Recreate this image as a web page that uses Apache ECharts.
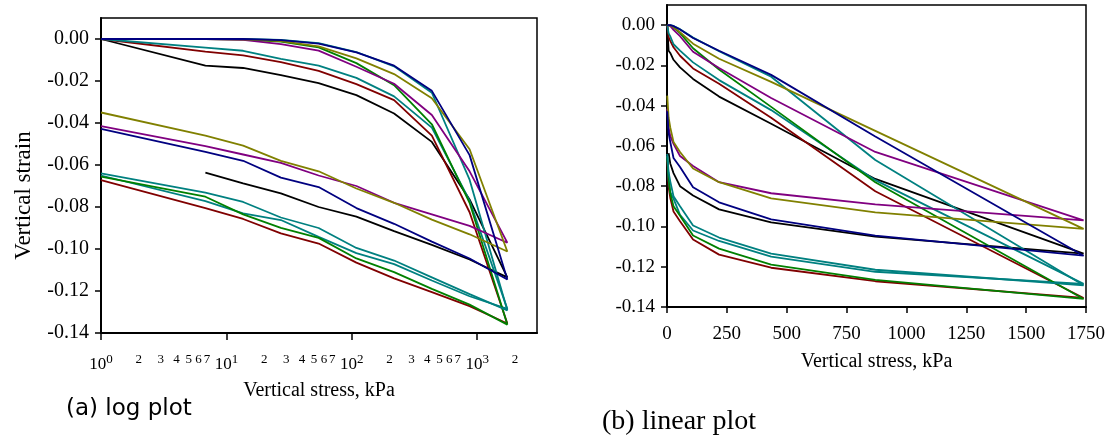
<!DOCTYPE html>
<html>
<head>
<meta charset="utf-8">
<script src="https://cdn.jsdelivr.net/npm/echarts@6/dist/echarts.min.js"></script>
<style>
  html, body { margin: 0; padding: 0; background: #ffffff; }
  #chart { width: 1108px; height: 440px; }
</style>
</head>
<body>
<div id="chart"></div>
<script>
// Vertical stress steps, kPa (loading, then unloading)
const loadStress = [1, 6.8, 13.6, 27.2, 54.4, 108.8, 217.5, 435, 870, 1740];
const unloadStress = [870, 435, 217.5, 108.8, 54.4, 27.2, 13.6, 6.8, 1];

// Vertical strain of each specimen along the loading and unloading branches
const blackLoad    = [0, -0.0127, -0.0138, -0.0172, -0.021, -0.0267, -0.0355, -0.049, -0.0764, -0.1135];
const blackUnload  = [-0.105, -0.098, -0.0915, -0.0846, -0.080, -0.0735, -0.0687, -0.0636];
const redLoad      = [0, -0.006, -0.0078, -0.011, -0.0152, -0.0215, -0.0291, -0.046, -0.0825, -0.1355];
const redUnload    = [-0.1272, -0.1205, -0.114, -0.1065, -0.0974, -0.0926, -0.0857, -0.0805, -0.0672];
const tealALoad    = [0, -0.0041, -0.0056, -0.0095, -0.0127, -0.0185, -0.0273, -0.0422, -0.077, -0.1285];
const tealAUnload  = [-0.1225, -0.115, -0.1072, -0.102, -0.0942, -0.0862, -0.083, -0.0772, -0.065];
const tealBLoad    = [0, 0, 0, -0.0004, -0.002, -0.0062, -0.013, -0.0256, -0.067, -0.1292];
const tealBUnload  = [-0.1215, -0.1135, -0.1055, -0.0995, -0.090, -0.085, -0.0776, -0.0732, -0.064];
const greenLoad    = [0, 0, -0.0003, -0.0012, -0.004, -0.0115, -0.022, -0.0406, -0.078, -0.136];
const greenUnload  = [-0.1265, -0.119, -0.111, -0.1045, -0.0947, -0.0899, -0.0835, -0.0751, -0.0655];
const navyLoad     = [0, 0, 0, -0.0005, -0.0022, -0.0064, -0.0127, -0.0247, -0.0553, -0.1145];
const navyUnload   = [-0.1045, -0.0965, -0.088, -0.0805, -0.0705, -0.066, -0.058, -0.0538, -0.0428];
const purpleLoad   = [0, 0, -0.0004, -0.0024, -0.0055, -0.0132, -0.0213, -0.0362, -0.063, -0.097];
const purpleUnload = [-0.089, -0.0835, -0.078, -0.070, -0.065, -0.059, -0.055, -0.051, -0.0415];
const oliveLoad    = [0, 0, -0.0002, -0.001, -0.0035, -0.0092, -0.0167, -0.0282, -0.0525, -0.1012];
const oliveUnload  = [-0.093, -0.086, -0.078, -0.0712, -0.063, -0.058, -0.0508, -0.046, -0.035];

// Axis tick values
const strainTicks = [-0.14, -0.12, -0.10, -0.08, -0.06, -0.04, -0.02, 0];
const logDecades = [1, 10, 100, 1000];
const logLabelValues = [1, 2, 3, 4, 5, 6, 7, 10, 20, 30, 40, 50, 60, 70,
                        100, 200, 300, 400, 500, 600, 700, 1000, 2000];

const specimens = [
  { color: '#000000', load: blackLoad,  unload: blackUnload },
  { color: '#800000', load: redLoad,    unload: redUnload },
  { color: '#008080', load: tealALoad,  unload: tealAUnload },
  { color: '#008000', load: greenLoad,  unload: greenUnload },
  { color: '#008080', load: tealBLoad,  unload: tealBUnload },
  { color: '#800080', load: purpleLoad, unload: purpleUnload },
  { color: '#808000', load: oliveLoad,  unload: oliveUnload },
  { color: '#000080', load: navyLoad,   unload: navyUnload }
];

function curve(sp) {
  const pts = sp.load.map((e, i) => [loadStress[i], e]);
  sp.unload.forEach((e, i) => pts.push([unloadStress[i], e]));
  return pts;
}

const serif = 'Liberation Serif';
const fmtStrain = v => (Math.abs(v) < 1e-9 ? 0 : v).toFixed(2);

function logLabel(v) {
  const e = Math.floor(Math.log10(v) + 1e-9);
  const lead = Math.round(v / Math.pow(10, e));
  if (lead === 1) return '{base|10}{exp|' + e + '}';
  return '{minor|' + lead + '}';
}

const strainAxis = (gridIndex, fontSize, margin) => ({
  type: 'value', gridIndex, min: -0.14, max: 0.01,
  axisLine: { show: true, onZero: false, lineStyle: { color: '#000', width: 2 } },
  axisTick: { show: true, length: 6, customValues: strainTicks, lineStyle: { color: '#000', width: 1.5 } },
  axisLabel: { customValues: strainTicks, formatter: fmtStrain, color: '#000',
               fontFamily: serif, fontSize, margin },
  splitLine: { show: false }
});

const series = [];
specimens.forEach(sp => {
  [0, 1].forEach(g => series.push({
    type: 'line', xAxisIndex: g, yAxisIndex: g, data: curve(sp),
    symbol: 'none', silent: true, animation: false,
    lineStyle: { color: sp.color, width: 1.8 }
  }));
});

const option = {
  backgroundColor: '#ffffff',
  animation: false,
  title: [
    { text: '(a) log plot', left: 66, top: 398, padding: 0,
      textStyle: { fontFamily: 'DejaVu Sans', fontSize: 23, fontWeight: 'normal', color: '#000' } },
    { text: '(b) linear plot', left: 602, top: 408, padding: 0,
      textStyle: { fontFamily: serif, fontSize: 28, fontWeight: 'normal', color: '#000' } }
  ],
  grid: [
    { left: 101, top: 18, width: 436, height: 315, show: true,
      borderColor: '#000', borderWidth: 1.5, containLabel: false },
    { left: 667, top: 5, width: 419, height: 302, show: true,
      borderColor: '#000', borderWidth: 1.5, containLabel: false }
  ],
  xAxis: [
    {
      type: 'log', logBase: 10, gridIndex: 0, min: 1, max: 3000,
      name: 'Vertical stress, kPa', nameLocation: 'middle', nameGap: 48,
      nameTextStyle: { fontFamily: serif, fontSize: 20, color: '#000' },
      axisLine: { show: true, onZero: false, lineStyle: { color: '#000', width: 2 } },
      axisTick: { show: true, length: 7, customValues: logDecades, lineStyle: { color: '#000', width: 1.5 } },
      axisLabel: {
        customValues: logLabelValues, formatter: logLabel, margin: 20,
        rich: {
          base: { fontFamily: serif, fontSize: 17, color: '#000', lineHeight: 20, verticalAlign: 'bottom' },
          exp: { fontFamily: serif, fontSize: 13, color: '#000', lineHeight: 20, verticalAlign: 'top' },
          minor: { fontFamily: serif, fontSize: 13, color: '#000', lineHeight: 20, verticalAlign: 'top' }
        }
      },
      splitLine: { show: false }, minorTick: { show: false }
    },
    {
      type: 'value', gridIndex: 1, min: 0, max: 1750, interval: 250,
      name: 'Vertical stress, kPa', nameLocation: 'middle', nameGap: 45,
      nameTextStyle: { fontFamily: serif, fontSize: 20, color: '#000' },
      axisLine: { show: true, onZero: false, lineStyle: { color: '#000', width: 2 } },
      axisTick: { show: true, length: 6, lineStyle: { color: '#000', width: 1.5 } },
      axisLabel: { fontFamily: serif, fontSize: 19, color: '#000', margin: 18,
                   formatter: v => String(v) },
      splitLine: { show: false }
    }
  ],
  yAxis: [
    Object.assign(strainAxis(0, 20, 12), {
      name: 'Vertical strain', nameLocation: 'middle', nameGap: 66,
      nameTextStyle: { fontFamily: serif, fontSize: 23, color: '#000', padding: [0, 40, 0, 0] }
    }),
    strainAxis(1, 19, 12)
  ],
  series
};

const chart = echarts.init(document.getElementById('chart'), null, { renderer: 'canvas' });
chart.setOption(option);
</script>
</body>
</html>
